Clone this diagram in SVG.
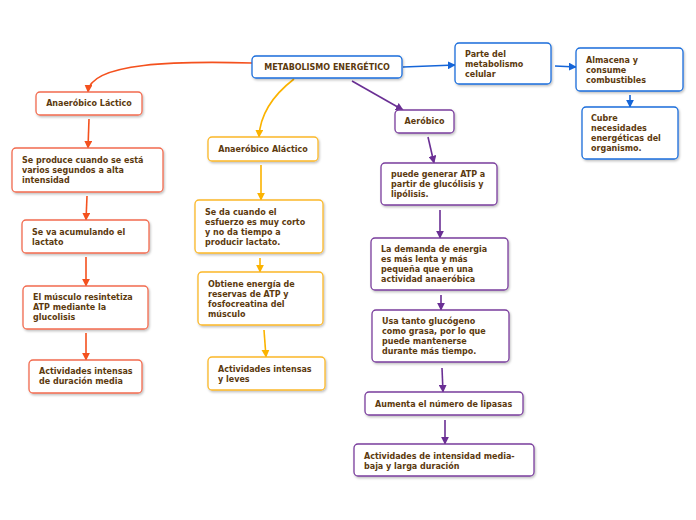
<svg xmlns="http://www.w3.org/2000/svg" width="696" height="520" viewBox="0 0 696 520">
<defs>
<filter id="sh" x="-10%" y="-10%" width="130%" height="140%"><feDropShadow dx="1" dy="1.5" stdDeviation="1" flood-color="#000" flood-opacity="0.25"/></filter>
<marker id="aR" viewBox="0 0 10 10" refX="9" refY="5" markerWidth="8" markerHeight="8" markerUnits="userSpaceOnUse" orient="auto"><path d="M0,0 L10,5 L0,10 z" fill="#f4511e"/></marker>
<marker id="aY" viewBox="0 0 10 10" refX="9" refY="5" markerWidth="8" markerHeight="8" markerUnits="userSpaceOnUse" orient="auto"><path d="M0,0 L10,5 L0,10 z" fill="#fbb300"/></marker>
<marker id="aP" viewBox="0 0 10 10" refX="9" refY="5" markerWidth="8" markerHeight="8" markerUnits="userSpaceOnUse" orient="auto"><path d="M0,0 L10,5 L0,10 z" fill="#6a2f94"/></marker>
<marker id="aB" viewBox="0 0 10 10" refX="9" refY="5" markerWidth="8" markerHeight="8" markerUnits="userSpaceOnUse" orient="auto"><path d="M0,0 L10,5 L0,10 z" fill="#1565d8"/></marker>
</defs>
<style>
rect{fill:#fff;stroke-width:1.3;filter:url(#sh)}
.r rect{stroke:#f26b4f}
.y rect{stroke:#fbb829}
.p rect{stroke:#7a3e9d}
.b rect{stroke:#1a6ddb}
text{font-family:"DejaVu Sans",Verdana,sans-serif;font-weight:bold;font-size:8px;fill:#5c3a0e}
.c{text-anchor:middle}
#conn path{fill:none;stroke-width:1.6}
.lr{stroke:#f4511e;marker-end:url(#aR)}
.ly{stroke:#fbb300;marker-end:url(#aY)}
.lp{stroke:#6a2f94;marker-end:url(#aP)}
.lb{stroke:#1565d8;marker-end:url(#aB)}
</style>
<rect width="696" height="520" style="fill:#fff;stroke:none;filter:none"/>
<g id="conn">
<path class="lr" d="M252,63 C180,61 90,62 88,92"/>
<path class="ly" d="M294,79 C272,96 260,115 259,137"/>
<path class="lp" d="M352,81 L403,110"/>
<path class="lb" d="M403,67 L455,65"/>
<path class="lb" d="M555,66 L576,67"/>
<path class="lb" d="M630,95 L630,107"/>
<path class="lp" d="M428,137 L434,163"/>
<path class="lp" d="M440,210 L440,238"/>
<path class="lp" d="M441,295 L441,310"/>
<path class="lp" d="M442,368 L443,392"/>
<path class="lp" d="M445,420 L445,444"/>
<path class="lr" d="M89,119 L88,148"/>
<path class="lr" d="M87,196 L86,220"/>
<path class="lr" d="M86,257 L86,286"/>
<path class="lr" d="M86,333 L86,360"/>
<path class="ly" d="M261,165 L261,200"/>
<path class="ly" d="M260,258 L260,272"/>
<path class="ly" d="M264,330 L266,357"/>
</g>
<g id="title" class="b"><rect x="252" y="56" width="150" height="22" rx="4"/><text class="c" x="327" y="70">METABOLISMO ENERGÉTICO</text></g>
<g id="parte" class="b"><rect x="455" y="43" width="96" height="41" rx="4"/><text x="465" y="57">Parte del</text><text x="465" y="67">metabolismo</text><text x="465" y="77">celular</text></g>
<g id="almacena" class="b"><rect x="576" y="48" width="107" height="43" rx="4"/><text x="586" y="63">Almacena y</text><text x="586" y="73">consume</text><text x="586" y="83">combustibles</text></g>
<g id="cubre" class="b"><rect x="582" y="107" width="96" height="52" rx="4"/><text x="591" y="121">Cubre</text><text x="591" y="131">necesidades</text><text x="591" y="141">energéticas del</text><text x="591" y="151">organismo.</text></g>
<g id="aerobico" class="p"><rect x="395" y="110" width="59" height="23" rx="4"/><text class="c" x="424.5" y="124">Aeróbico</text></g>
<g id="puede" class="p"><rect x="381" y="163" width="116" height="42" rx="4"/><text x="391" y="177">puede generar ATP a</text><text x="391" y="187">partir de glucólisis y</text><text x="391" y="197">lipólisis.</text></g>
<g id="demanda" class="p"><rect x="371" y="238" width="137" height="52" rx="4"/><text x="381" y="252">La demanda de energia</text><text x="381" y="262">es más lenta y más</text><text x="381" y="272">pequeña que en una</text><text x="381" y="282">actividad anaeróbica</text></g>
<g id="usa" class="p"><rect x="372" y="310" width="137" height="52" rx="4"/><text x="382" y="324">Usa tanto glucógeno</text><text x="382" y="334">como grasa, por lo que</text><text x="382" y="344">puede mantenerse</text><text x="382" y="354">durante más tiempo.</text></g>
<g id="aumenta" class="p"><rect x="365" y="392" width="158" height="23" rx="4"/><text x="375" y="407">Aumenta el número de lipasas</text></g>
<g id="actmedia" class="p"><rect x="354" y="444" width="180" height="32" rx="4"/><text x="364" y="459">Actividades de intensidad media-</text><text x="364" y="469">baja y larga duración</text></g>
<g id="lactico" class="r"><rect x="36" y="92" width="106" height="23" rx="4"/><text class="c" x="89" y="106">Anaeróbico Láctico</text></g>
<g id="produce" class="r"><rect x="12" y="148" width="151" height="44" rx="4"/><text x="22" y="163">Se produce cuando se está</text><text x="22" y="173">varios segundos a alta</text><text x="22" y="183">intensidad</text></g>
<g id="acumulando" class="r"><rect x="22" y="220" width="127" height="33" rx="4"/><text x="32" y="235">Se va acumulando el</text><text x="32" y="245">lactato</text></g>
<g id="musculo" class="r"><rect x="23" y="286" width="125" height="43" rx="4"/><text x="33" y="300">El músculo resintetiza</text><text x="33" y="310">ATP mediante la</text><text x="33" y="320">glucolisis</text></g>
<g id="actdur" class="r"><rect x="29" y="360" width="113" height="33" rx="4"/><text x="39" y="374">Actividades intensas</text><text x="39" y="384">de duración media</text></g>
<g id="alactico" class="y"><rect x="208" y="137" width="110" height="24" rx="4"/><text class="c" x="263" y="152">Anaeróbico Aláctico</text></g>
<g id="seda" class="y"><rect x="195" y="200" width="128" height="53" rx="4"/><text x="205" y="215">Se da cuando el</text><text x="205" y="225">esfuerzo es muy corto</text><text x="205" y="235">y no da tiempo a</text><text x="205" y="245">producir lactato.</text></g>
<g id="obtiene" class="y"><rect x="198" y="272" width="125" height="53" rx="4"/><text x="208" y="287">Obtiene energía de</text><text x="208" y="297">reservas de ATP y</text><text x="208" y="307">fosfocreatina del</text><text x="208" y="317">músculo</text></g>
<g id="actleves" class="y"><rect x="208" y="357" width="117" height="33" rx="4"/><text x="218" y="372">Actividades intensas</text><text x="218" y="382">y leves</text></g>
</svg>
